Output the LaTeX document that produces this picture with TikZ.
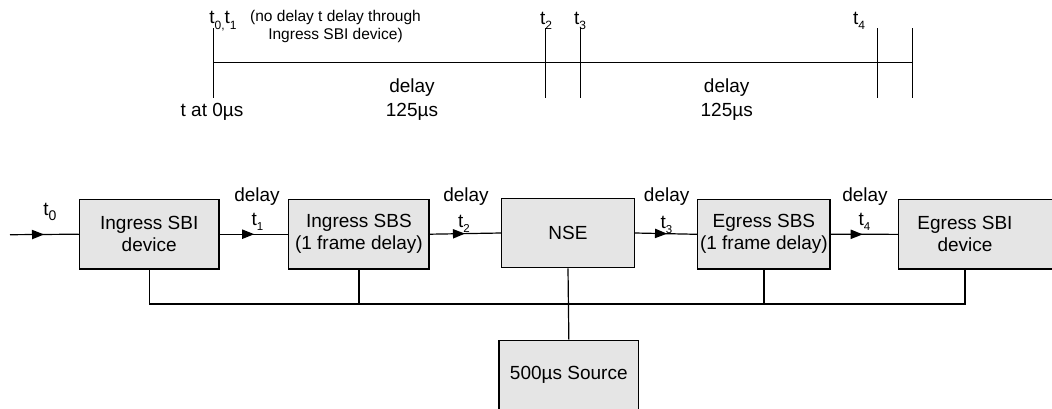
\documentclass[tikz,border=0pt]{standalone}
\usepackage{fontspec}
\setmainfont{Liberation Sans}
\usetikzlibrary{decorations.markings}
\newcommand\tlab[2][11.5]{t\raisebox{-0.28em}{\fontsize{#1}{#1}\selectfont #2}}
\tikzset{
  base/.style={line width=1.2pt, draw=black},
  blk/.style={base, fill=black!10, inner sep=0pt, align=center, font=\fontsize{19}{22}\selectfont},
  lbl/.style={inner sep=0pt, align=center, font=\fontsize{19}{24}\selectfont},
  note/.style={inner sep=0pt, align=center, font=\fontsize{15.5}{18}\selectfont},
  midarrow/.style={postaction={decorate, decoration={markings,
      mark=at position #1 with {\fill[black] (1,0) -- (-11,4.8) -- (-11,-4.8) -- cycle;}}}},
}
\begin{document}
\begin{tikzpicture}[x=1pt,y=-1pt]
\useasboundingbox (0,0) rectangle (1052,408);
% ---------- timeline ----------
\coordinate (tl0) at (213.3,62.7);
\coordinate (tlE) at (912.3,62.7);
\coordinate (v0t) at (213.3,28.3); \coordinate (v0b) at (213.3,98.3);
\coordinate (v2t) at (545.3,28.3); \coordinate (v2b) at (545.3,98.3);
\coordinate (v3t) at (580.4,28.3); \coordinate (v3b) at (580.4,98.3);
\coordinate (v4t) at (877.7,28.3); \coordinate (v4b) at (877.7,98.3);
\coordinate (v5t) at (912.3,28.3); \coordinate (v5b) at (912.3,98.3);
\draw[base] (tl0) -- (tlE);
\draw[base] (v0t) -- (v0b);
\draw[base] (v2t) -- (v2b);
\draw[base] (v3t) -- (v3b);
\draw[base] (v4t) -- (v4b);
\draw[base] (v5t) -- (v5b);
\node[lbl] (lt01) at (223,21) {t\raisebox{-0.28em}{\fontsize{12}{12}\selectfont 0,}\tlab[12]{1}};
\node[lbl] (lt2) at (546,21) {\tlab[12]{2}};
\node[lbl] (lt3) at (580,21) {\tlab[12]{3}};
\node[lbl] (lt4) at (859,21) {\tlab[12]{4}};
\node[note] (nodel) at (335.5,26) {(no delay t delay through\\Ingress SBI device)};
\node[lbl] (tat0) at (212,112) {t at 0µs};
\node[lbl] (dl1) at (412,100) {delay\\125µs};
\node[lbl] (dl2) at (726.7,100) {delay\\125µs};
% ---------- block diagram ----------
\node[blk, minimum width=139.7pt, minimum height=69.7pt] (isbi) at (149.2,234.2) {Ingress SBI\\device};
\node[blk, minimum width=140.3pt, minimum height=69.7pt] (isbs) at (358.9,234.2) {Ingress SBS\\(1 frame delay)};
\node[blk, minimum width=132.6pt, minimum height=69.4pt] (nse) at (568,233) {NSE};
\node[blk, minimum width=132.3pt, minimum height=69.3pt] (esbs) at (763.9,234.3) {Egress SBS\\(1 frame delay)};
\node[blk, minimum width=171.3pt, minimum height=69.3pt] (esbibox) at (984.35,234.35) {};
\node[lbl, font=\fontsize{19}{22}\selectfont] (esbi) at (965,234.3) {Egress SBI\\device};
\node[blk, minimum width=139.7pt, minimum height=79.7pt] (srcbox) at (568.85,380.15) {};
\node[lbl] (src) at (568.8,374.7) {500µs Source};
\coordinate (in) at (10,234.7);
\draw[base, midarrow=0.48] (in) -- (isbi.west);
\draw[base, midarrow=0.49] (isbi.east) -- (isbs.west);
\draw[base, midarrow=0.48] (isbs.east) -- (nse.west);
\draw[base, midarrow=0.50] (nse.east) -- (esbs.west);
\draw[base, midarrow=0.46] (esbs.east) -- (esbibox.west);
% labels on arrows
\node[lbl] (t0) at (50,212) {\tlab[14]{0}};
\node[lbl] (d1) at (257,197) {delay};
\node[lbl] (t1) at (257.5,222) {\tlab{1}};
\node[lbl] (d2) at (466,197) {delay};
\node[lbl] (t2) at (464,224) {\tlab{2}};
\node[lbl] (d3) at (666.7,197) {delay};
\node[lbl] (t3) at (666.5,225) {\tlab{3}};
\node[lbl] (d4) at (865,197) {delay};
\node[lbl] (t4) at (864.5,222) {\tlab{4}};
% bus
\coordinate (busL) at (149.2,304);
\coordinate (busR) at (965,304);
\coordinate (esbiB) at (965,269);
\draw[base] (isbi.south) -- (busL) -- (busR) -- (esbiB);
\draw[base] (isbs.south) -- (isbs.south |- busL);
\draw[base] (esbs.south) -- (esbs.south |- busL);
\draw[base] (nse.south) -- (srcbox.north);
\end{tikzpicture}
\end{document}
